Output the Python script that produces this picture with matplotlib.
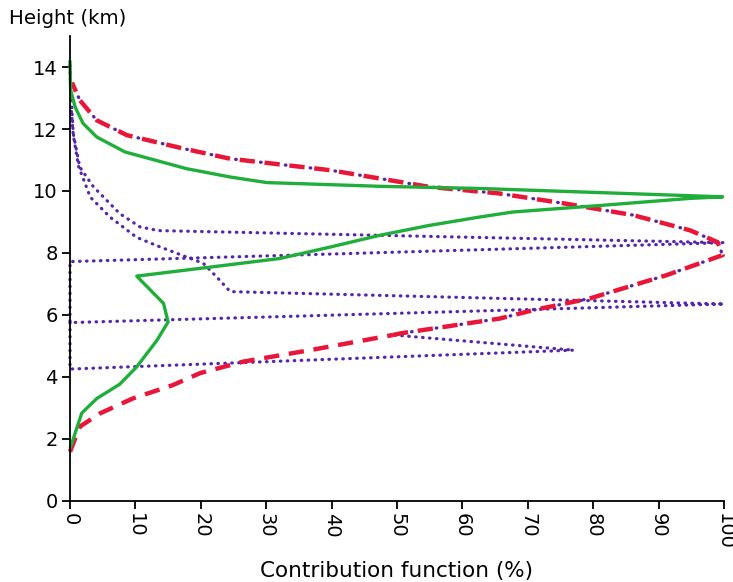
import matplotlib
matplotlib.use("Agg")
import matplotlib.pyplot as plt

plt.rcParams["font.family"] = ["DejaVu Sans"]
plt.rcParams["lines.scale_dashes"] = False

# green solid profile
green_x = [0.1, 1.8, 4.1, 7.6, 10.2, 13.3, 15.0, 14.3, 10.2, 26.0, 32.1, 39.8, 47.4, 55.0,
           62.7, 67.7, 81.0, 94.8, 99.8, 62.7, 47.4, 30.1, 24.5, 17.8, 8.4, 4.1, 2.0, 0.8, 0.1, 0.0]
green_y = [1.74, 2.83, 3.30, 3.76, 4.32, 5.18, 5.77, 6.37, 7.25, 7.66, 7.82, 8.19, 8.57, 8.89,
           9.16, 9.32, 9.53, 9.76, 9.81, 10.08, 10.15, 10.27, 10.45, 10.72, 11.26, 11.74, 12.18,
           12.70, 13.25, 14.16]

# red dashed profile, lower part
red_low_x = [0.0, 1.5, 4.6, 9.6, 15.7, 19.9, 26.5, 36.7, 49.4]
red_low_y = [1.58, 2.39, 2.82, 3.30, 3.73, 4.12, 4.49, 4.86, 5.35]
# red/blue dash-dot profile, upper part
red_up_x = [49.4, 50.5, 65.7, 70.8, 79.5, 91.2, 99.8, 99.0, 94.8, 86.1, 75.8, 65.6, 55.0,
            39.8, 24.5, 17.3, 8.7, 4.1, 1.5, 0.3]
red_up_y = [5.35, 5.40, 5.88, 6.15, 6.53, 7.28, 7.93, 8.35, 8.73, 9.22, 9.59, 9.92, 10.13,
            10.67, 11.04, 11.37, 11.80, 12.28, 12.93, 13.50]

# purple dotted zigzags
purple_a_x = [0.0, 0.1, 0.3, 0.5, 1.5, 3.6, 7.6, 10.7, 13.5, 100.0, 0.0, 0.0, 100.0, 24.5,
              22.4, 20.4, 17.8, 13.8, 10.2, 6.1, 3.1, 1.3, 0.5, 0.2]
purple_a_y = [14.05, 13.3, 12.6, 11.85, 10.77, 10.13, 9.27, 8.84, 8.72, 8.33, 7.72, 5.75,
              6.35, 6.75, 7.23, 7.66, 7.87, 8.19, 8.50, 9.16, 9.80, 10.8, 11.8, 12.6]
purple_b_x = [0.0, 0.0, 77.0, 49.4]
purple_b_y = [5.75, 4.25, 4.86, 5.35]

red = "#e8173a"
green = "#1fae3a"
purple = "#5526a8"

fig = plt.figure(figsize=(7.33, 5.82), dpi=100)
ax = fig.add_axes([0.0955, 0.1397, 0.8922, 0.7983])

dot = (0, (0.4, 4.6))
ax.plot(purple_a_x, purple_a_y, color=purple, lw=2.3, linestyle=dot,
        dash_capstyle="round", clip_on=False)
ax.plot(purple_b_x, purple_b_y, color=purple, lw=2.3, linestyle=dot,
        dash_capstyle="round", clip_on=False)
ax.plot(red_up_x, red_up_y, color=purple, lw=2.4, linestyle=(4.5, (0.4, 17.6)),
        dash_capstyle="round", clip_on=False)
ax.plot(red_up_x, red_up_y, color=red, lw=3.2, linestyle=(0, (11, 7)), clip_on=False)
ax.plot(red_low_x, red_low_y, color=red, lw=3.2, linestyle=(0, (11, 7)), clip_on=False)
ax.plot(green_x, green_y, color=green, lw=2.4, clip_on=False)

ax.set_xlim(0, 100)
ax.set_ylim(0, 15)
ax.set_xticks(range(0, 101, 10))
ax.set_yticks(range(0, 15, 2))
ax.set_xticklabels([str(v) for v in range(0, 101, 10)], rotation=-90)
for s in ["top", "right"]:
    ax.spines[s].set_visible(False)
ax.spines["left"].set_linewidth(1.3)
ax.spines["bottom"].set_linewidth(1.3)
ax.tick_params(axis="both", direction="out", length=6, width=1.3, labelsize=14, pad=3)

ax.set_xlabel("Contribution function (%)", fontsize=15.5, labelpad=8)
fig.text(0.012, 0.985, "Height (km)", fontsize=14.2, ha="left", va="top")

fig.savefig("out.png", dpi=100)
